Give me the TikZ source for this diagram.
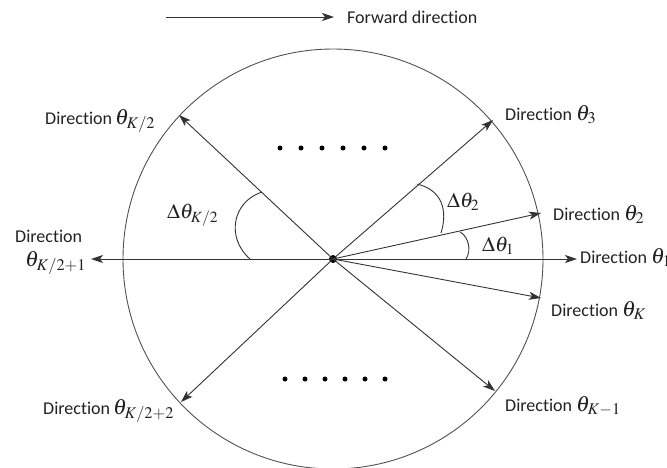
\documentclass[tikz,border=0pt]{standalone}
\usepackage{mathptmx}
\usepackage[no-math]{fontspec}
\setmainfont[Ligatures={NoCommon,NoRare,NoDiscretionary}]{Carlito}
\usetikzlibrary{arrows.meta}
\definecolor{ink}{HTML}{333333}
\definecolor{txt}{HTML}{222222}
\newcommand{\bigth}[1]{{\fontsize{22}{24}\selectfont$#1$}}
\tikzset{
  arr/.style={draw=ink, line width=0.9pt, -{Stealth[length=12pt,width=8pt,inset=3pt]}},
  lab/.style={inner sep=0pt, anchor=base west, text=txt, font=\fontsize{18}{20}\selectfont},
  dlab/.style={inner sep=0pt, anchor=base west, text=txt, font=\fontsize{21}{23}\selectfont},
  anglearc/.style={draw=ink, line width=0.9pt},
  dot/.style={circle, fill=black, inner sep=0pt, minimum size=5pt},
}
\begin{document}
\begin{tikzpicture}[x=1pt,y=-1pt]
\useasboundingbox (0,0) rectangle (667,467);
% circle and centre
\node[circle, draw=ink!85, line width=0.9pt, minimum size=420pt, inner sep=0pt] (ring) at (333,259) {};
\node[circle, fill=black, inner sep=0pt, minimum size=8pt] (c) at (333,259) {};
% arrow tips
\coordinate (t1) at (577,259);
\coordinate (t2) at (541,213);
\coordinate (t3) at (493,120);
\coordinate (tK2) at (179,115);
\coordinate (tK21) at (91,259);
\coordinate (tK22) at (181,402);
\coordinate (tKm1) at (495,391);
\coordinate (tK) at (541,298);
\foreach \t in {t1,t2,t3,tK2,tK21,tK22,tKm1,tK}
  \draw[arr] (c.center) -- (\t);
% forward direction
\coordinate (fs) at (166,17);
\coordinate (fe) at (334,17);
\draw[arr] (fs) -- (fe);
\node[lab] (fwd) at (347,23) {Forward direction};
% direction labels
\node[lab] (lK2) at (45,124) {Direction\,\bigth{\theta_{K/2}}};
\node[lab] (l3) at (505,120) {Direction \bigth{\theta_3}};
\node[lab] (lK21a) at (15,242) {Direction};
\node[lab] (lK21b) at (25,266) {\bigth{\theta_{K/2+1}}};
\node[lab] (l2) at (553,220) {Direction \bigth{\theta_2}};
\node[lab] (l1) at (580,263) {Direction \bigth{\theta_1}};
\node[lab] (lK) at (551,316) {Direction \bigth{\theta_K}};
\node[lab] (lK22) at (43,414) {Direction\,\bigth{\theta_{K/2+2}}};
\node[lab] (lKm1) at (505,411) {Direction \bigth{\theta_{K-1}}};
% angle arcs
\draw[anglearc] (417,184) .. controls (442,190) and (448,210) .. (441,233);
\draw[anglearc] (460,232) .. controls (468,236) and (472,250) .. (466,259);
\draw[anglearc] (262,192) .. controls (232,202) and (226,238) .. (250,259);
\node[dlab] (d2) at (447,207) {$\Delta\theta_2$};
\node[dlab] (d1) at (482,251) {$\Delta\theta_1$};
\node[dlab] (dK2) at (167,218) {$\Delta\theta_{K/2}$};
% ellipsis dots
\foreach \i in {0,...,5} {
  \node[dot] (u\i) at (280+21*\i,148) {};
  \node[dot] (b\i) at (285+20*\i,379) {};
}
\end{tikzpicture}
\end{document}
